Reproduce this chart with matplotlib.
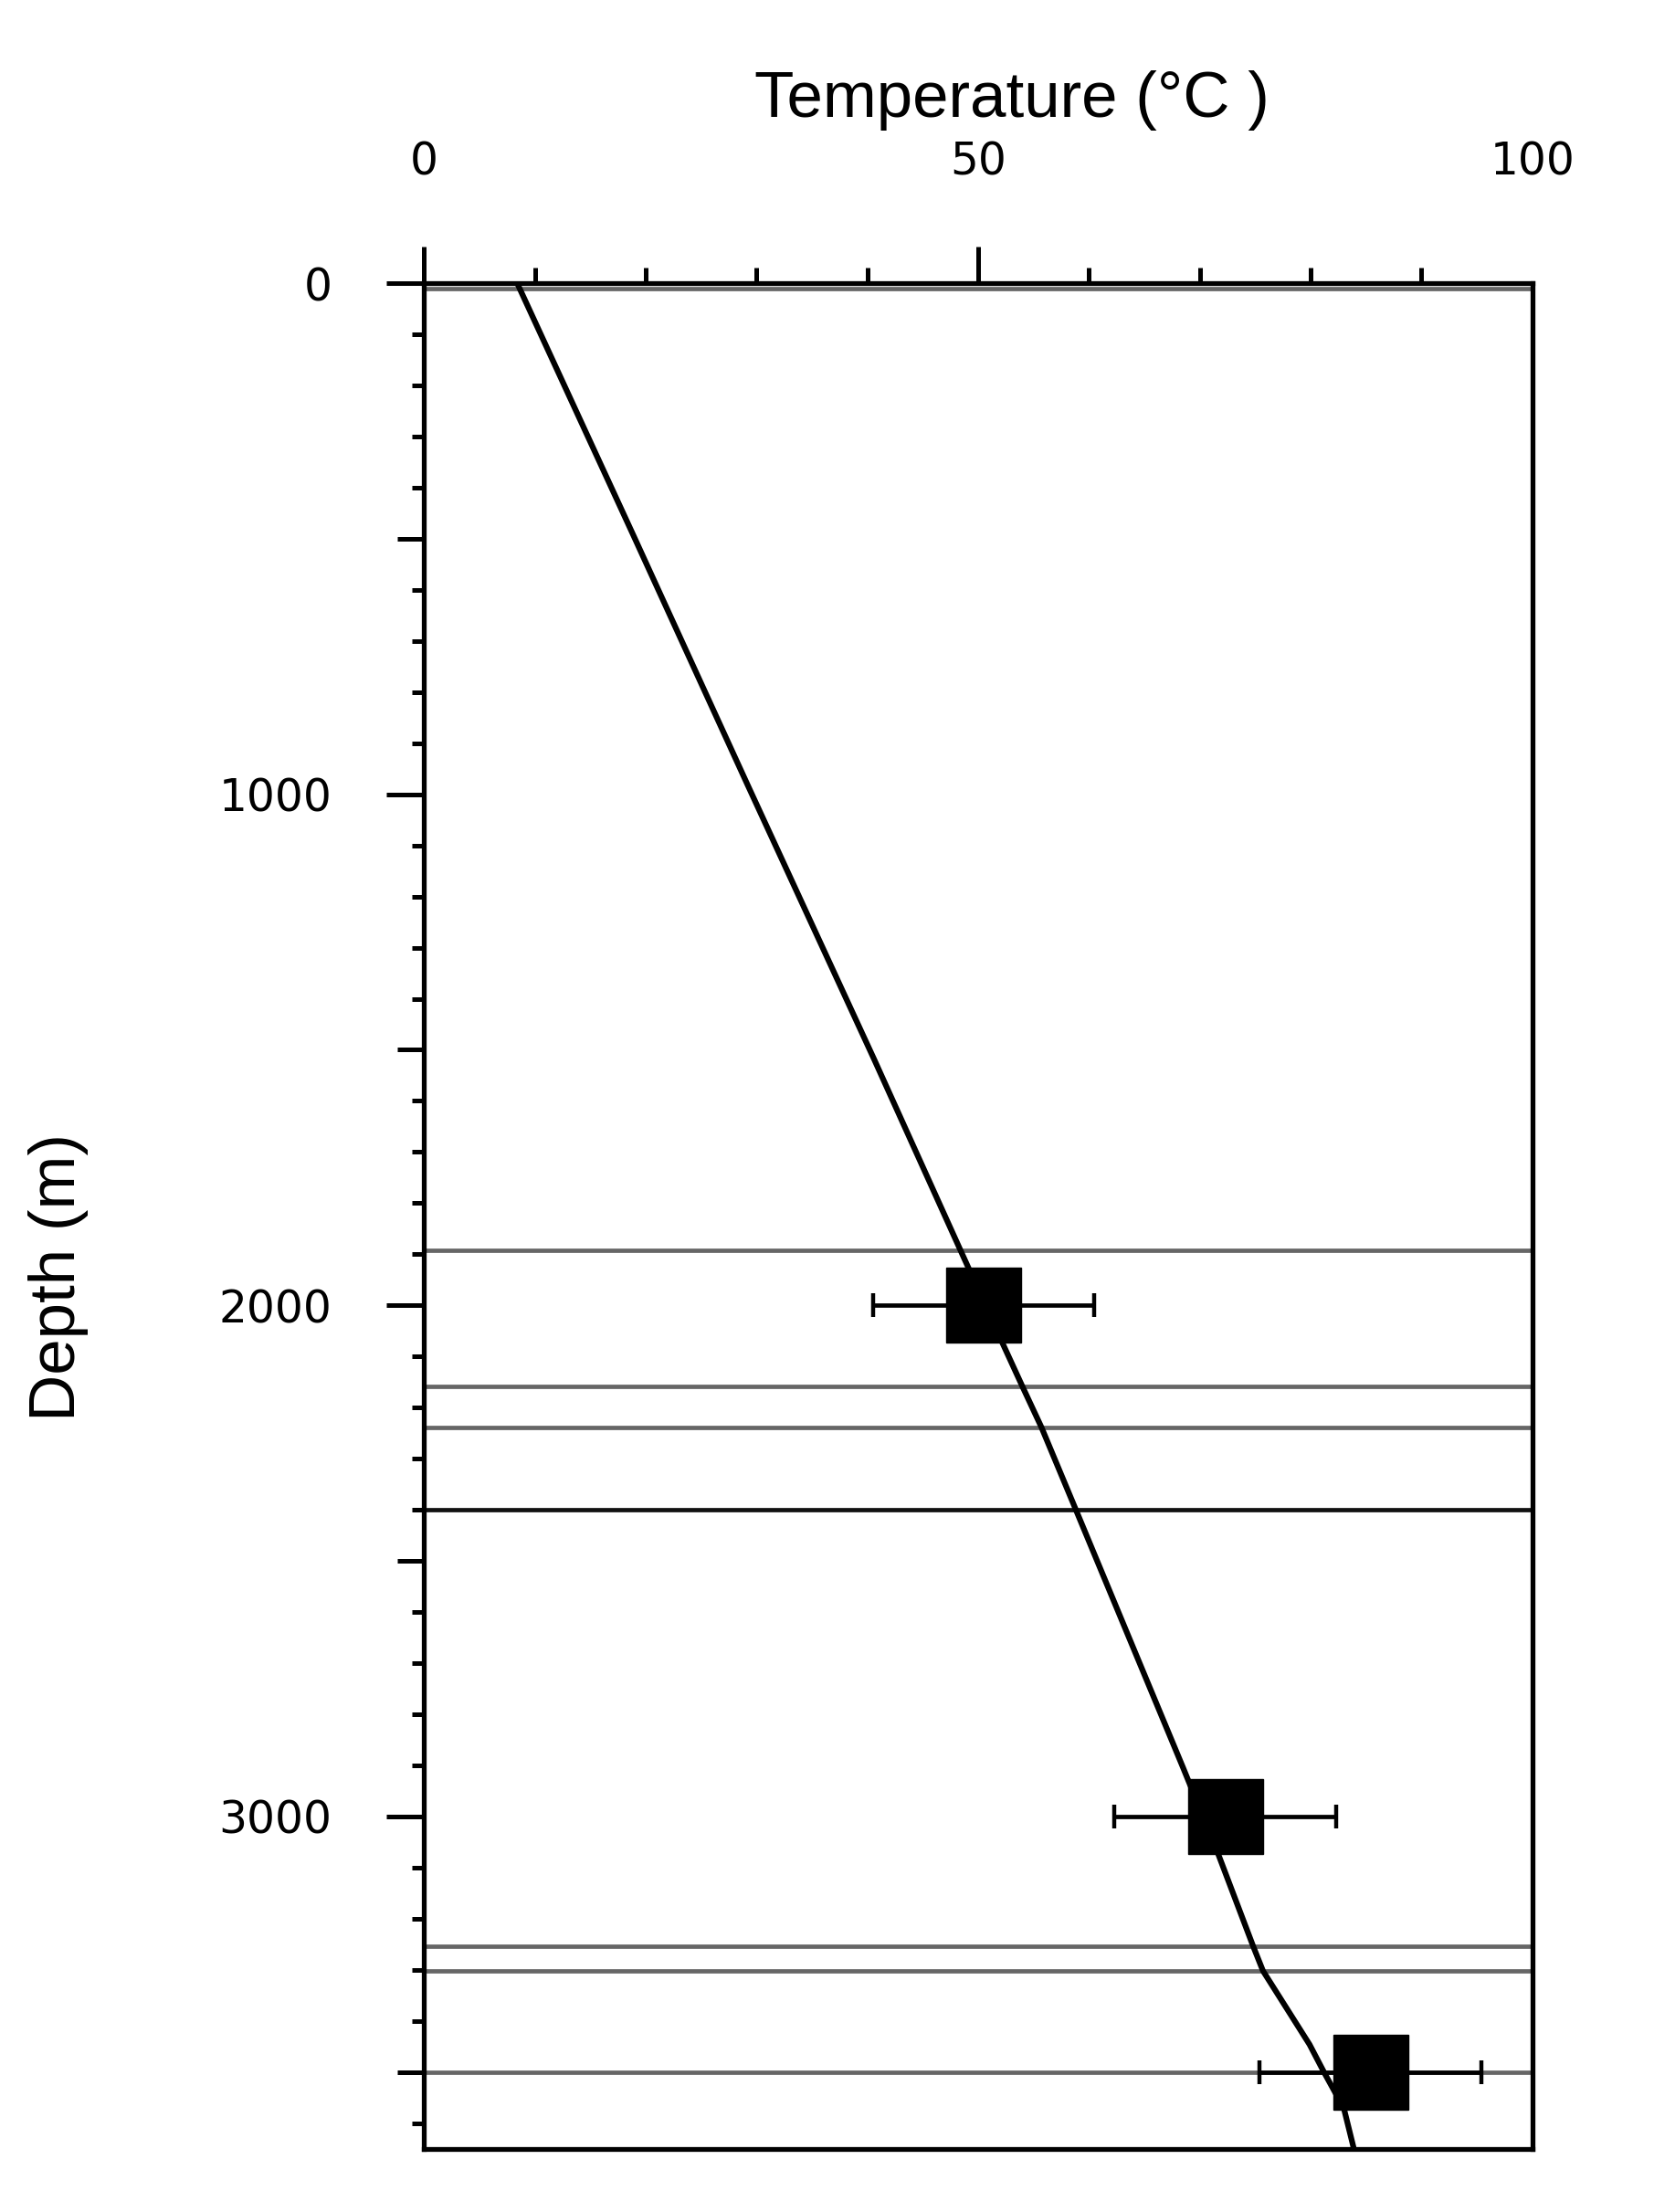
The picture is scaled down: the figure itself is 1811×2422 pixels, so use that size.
import numpy as np
import matplotlib.pyplot as plt

# modelled temperature profile (depth in m, temperature in deg C)
curve_depth = [0, 494, 982, 1518, 1892, 2074, 2159, 2238, 2399, 2905,
               3070, 3253, 3302, 3446, 3500, 3571, 3650]
curve_temp = [8.4, 18.9, 29.2, 40.6, 48.4, 52.2, 54.0, 55.7, 58.8, 68.5,
              71.6, 74.8, 75.7, 79.9, 81.2, 83.0, 83.9]

# measured temperatures with error
meas_depth = [2000, 3000, 3500]
meas_temp = [50.5, 72.3, 85.4]
meas_err = [10, 10, 10]

# horizon lines
gray_depths = [10, 1893, 2159, 2238, 3253, 3302, 3500]
black_depths = [2399]

fig = plt.figure(figsize=(18.11, 24.22), dpi=100)
ax = fig.add_axes([0.2564, 0.0286, 0.6700, 0.8434])

for d in gray_depths:
    ax.axhline(d, color='#666666', lw=3.4, zorder=1)
for d in black_depths:
    ax.axhline(d, color='#111111', lw=3.4, zorder=1)

ax.plot(curve_temp, curve_depth, color='black', lw=4.5, zorder=2,
        solid_joinstyle='round')
ax.errorbar(meas_temp, meas_depth, xerr=meas_err, fmt='s', color='black',
            ms=59, elinewidth=3.4, capsize=9.7, capthick=3.2, zorder=3)

ax.set_xlim(0, 100)
ax.set_ylim(3650, 0)

# x axis on top
ax.xaxis.tick_top()
ax.set_xticks([0, 50, 100])
ax.set_xticks(np.arange(0, 101, 10), minor=True)
ax.set_xticklabels(['0', '50', '100'], family='DejaVu Sans', fontsize=35)

yt = np.arange(0, 3651, 500)
ax.set_yticks(yt)
ax.set_yticklabels([str(v) if v % 1000 == 0 else '' for v in yt],
                   family='DejaVu Sans', fontsize=35)
ax.set_yticks(np.arange(0, 3651, 100), minor=True)

ax.tick_params(axis='x', which='major', length=29, width=3.6, pad=49, direction='out')
ax.tick_params(axis='x', which='minor', length=12, width=3.6, direction='out')
ax.tick_params(axis='y', which='major', length=29.5, width=3.6, pad=43, direction='out')
ax.tick_params(axis='y', which='minor', length=9.5, width=3.6, direction='out')

for t in ax.yaxis.get_major_ticks():
    if t.get_loc() % 1000 != 0:
        t.tick1line.set_markersize(21)
for t in ax.xaxis.get_major_ticks():
    if t.get_loc() == 100:
        t.tick2line.set_visible(False)

for s in ax.spines.values():
    s.set_linewidth(3.8)
    s.set_color('black')
    s.set_zorder(4)

fig.text(0.6118, 1 - 128 / 2422, 'Temperature (\u00b0C )', family='Liberation Sans',
         fontsize=51, ha='center', va='baseline')
fig.text(64 / 1811, 1 - 1399 / 2422, 'Depth (m)', family='Liberation Sans',
         fontsize=51, rotation=90, ha='center', va='center')

fig.savefig('out.png', dpi=100)
